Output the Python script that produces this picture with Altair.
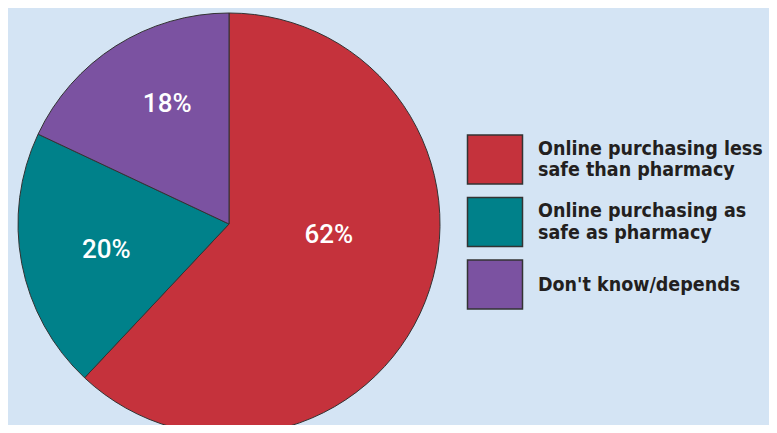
import altair as alt
import pandas as pd

categories = [
    "Online purchasing less|safe than pharmacy",
    "Online purchasing as|safe as pharmacy",
    "Don't know/depends",
]
values = [62, 20, 18]
pct_labels = ["62%", "20%", "18%"]
colors = ["#c5323c", "#00818a", "#7b52a1"]
order_idx = [0, 1, 2]

df = pd.DataFrame({"category": categories, "value": values,
                   "label": pct_labels, "order": order_idx})

CX, CY, R = 221, 216, 211

color = alt.Color(
    "category:N",
    scale=alt.Scale(domain=categories, range=colors),
    legend=alt.Legend(
        orient="none", direction="vertical", legendX=461.5, legendY=126,
        title=None, padding=0,
        symbolType="M-1.1224,-1H1.1224V1H-1.1224Z", symbolSize=2401,
        symbolStrokeColor="#333333", symbolStrokeWidth=1.5, symbolOpacity=1,
        labelFont="Liberation Sans Narrow, DejaVu Sans Condensed, Roboto Condensed, sans-serif",
        labelFontSize=19.5, labelFontWeight="bold", labelColor="#231f20",
        labelBaseline={"expr": "indexof(datum.label, '|') >= 0 ? 'line-bottom' : 'middle'"},
        labelOffset=17.5, rowPadding=7.5, labelLimit=320,
        labelExpr="split(datum.label, '|')",
    ),
)

base = alt.Chart(df)

pie = base.mark_arc(outerRadius=R, stroke="#333333", strokeWidth=1).encode(
    theta=alt.Theta("value:Q", stack=True),
    color=color,
    order=alt.Order("order:Q"),
    x=alt.value(CX),
    y=alt.value(CY),
)

stacked = base.transform_window(
    cum="sum(value)", sort=[alt.SortField("order")], frame=[None, 0]
).transform_calculate(mid="datum.cum - datum.value / 2")


def lab(i, r, dx, dy):
    return stacked.transform_filter(alt.datum.order == i).mark_text(
        radius=r, dx=dx, dy=dy, font="Roboto", fontSize=26, fontWeight=500,
        color="white", align="center", baseline="middle",
    ).encode(
        theta=alt.Theta("mid:Q", stack=False),
        text="label:N",
        x=alt.value(CX),
        y=alt.value(CY),
    )


chart = alt.layer(
    pie, lab(0, 101, 6, -26), lab(1, 126, 1, 2), lab(2, 134, 10, -7)
).properties(
    width=761, height=417, padding=0,
    autosize=alt.AutoSizeParams(type="none"),
    background="#d4e4f4",
).configure_view(stroke="transparent")

chart.save("out.html", embed_options={"renderer": "svg", "actions": False})
